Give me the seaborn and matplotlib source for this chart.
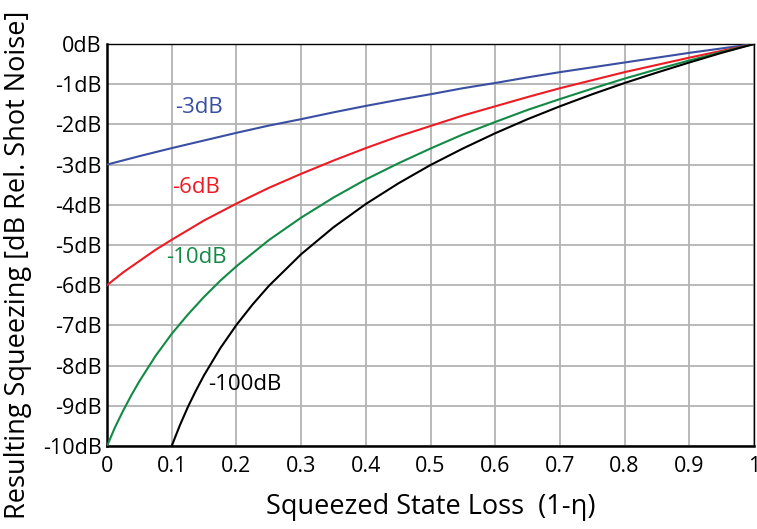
import matplotlib
matplotlib.use("Agg")
import matplotlib.pyplot as plt
import seaborn as sns
import pandas as pd

# Loss values (1-eta) and resulting squeezing in dB
x_3 = [0, 0.05, 0.1, 0.15, 0.2, 0.25, 0.3, 0.35, 0.4, 0.45, 0.5, 0.55, 0.6, 0.65, 0.7, 0.75, 0.8, 0.85, 0.9, 0.95, 1.0]
y_3 = [-3.00, -2.79, -2.59, -2.40, -2.21, -2.03, -1.87, -1.70, -1.54, -1.39, -1.25, -1.10, -0.97, -0.83, -0.70, -0.58, -0.46, -0.34, -0.22, -0.11, 0.0]

x_6 = [0, 0.025, 0.05, 0.075, 0.1, 0.15, 0.2, 0.25, 0.3, 0.35, 0.4, 0.45, 0.5, 0.55, 0.6, 0.65, 0.7, 0.75, 0.8, 0.85, 0.9, 0.95, 1.0]
y_6 = [-6.00, -5.68, -5.40, -5.12, -4.87, -4.39, -3.97, -3.58, -3.23, -2.90, -2.59, -2.30, -2.04, -1.78, -1.55, -1.32, -1.10, -0.90, -0.70, -0.52, -0.34, -0.17, 0.0]

x_10 = [0, 0.0125, 0.025, 0.0375, 0.05, 0.075, 0.1, 0.125, 0.15, 0.175, 0.2, 0.25, 0.3, 0.35, 0.4, 0.45, 0.5, 0.55, 0.6, 0.65, 0.7, 0.75, 0.8, 0.85, 0.9, 0.95, 1.0]
y_10 = [-10.00, -9.53, -9.12, -8.74, -8.39, -7.76, -7.21, -6.73, -6.29, -5.89, -5.53, -4.88, -4.32, -3.82, -3.37, -2.97, -2.60, -2.25, -1.94, -1.64, -1.37, -1.11, -0.86, -0.63, -0.41, -0.20, 0.0]

x_100 = [0.1, 0.1125, 0.125, 0.1375, 0.15, 0.175, 0.2, 0.225, 0.25, 0.3, 0.35, 0.4, 0.45, 0.5, 0.55, 0.6, 0.65, 0.7, 0.75, 0.8, 0.85, 0.9, 0.95, 1.0]
y_100 = [-10.00, -9.49, -9.03, -8.62, -8.24, -7.57, -6.99, -6.48, -6.02, -5.23, -4.56, -3.98, -3.47, -3.01, -2.60, -2.22, -1.87, -1.55, -1.25, -0.97, -0.71, -0.46, -0.22, 0.0]

series_names = ["-3dB", "-6dB", "-10dB", "-100dB"]
series_colors = ["#3a4fa3", "#ed1c24", "#128a45", "#000000"]
x_ticks = [0, 0.1, 0.2, 0.3, 0.4, 0.5, 0.6, 0.7, 0.8, 0.9, 1]
x_tick_labels = ["0", "0.1", "0.2", "0.3", "0.4", "0.5", "0.6", "0.7", "0.8", "0.9", "1"]
y_ticks = [0, -1, -2, -3, -4, -5, -6, -7, -8, -9, -10]
y_tick_labels = ["0dB", "-1dB", "-2dB", "-3dB", "-4dB", "-5dB", "-6dB", "-7dB", "-8dB", "-9dB", "-10dB"]

frames = []
for name, xs, ys in zip(series_names, [x_3, x_6, x_10, x_100], [y_3, y_6, y_10, y_100]):
    frames.append(pd.DataFrame({"loss": xs, "sq": ys, "init": name}))
df = pd.concat(frames, ignore_index=True)

sns.set_theme(style="white")
plt.rcParams["font.family"] = ["Open Sans", "DejaVu Sans"]

fig = plt.figure(figsize=(7.57, 5.29), dpi=100)
ax = fig.add_axes([107 / 757, 1 - 446 / 529, 647 / 757, 402 / 529])

sns.lineplot(data=df, x="loss", y="sq", hue="init", palette=dict(zip(series_names, series_colors)),
             hue_order=series_names, linewidth=1.5, legend=False, ax=ax, sort=False, zorder=3)

ax.set_xlim(0, 1)
ax.set_ylim(-10, 0)
ax.set_xticks(x_ticks)
ax.set_xticklabels(x_tick_labels, fontsize=15.5)
ax.set_yticks(y_ticks)
ax.set_yticklabels(y_tick_labels, fontsize=15.5)
ax.tick_params(axis="x", length=0, pad=7, colors="black")
ax.tick_params(axis="y", length=0, pad=4, colors="black")
ax.grid(True, color="#b3b3b3", linewidth=1.3)
ax.set_axisbelow(True)
for s in ax.spines.values():
    s.set_color("black")
    s.set_linewidth(1.8)
ax.spines["top"].set_linewidth(1.0)
ax.spines["right"].set_linewidth(1.0)

ax.set_xlabel("Squeezed State Loss  (1-η)", fontsize=19.5, labelpad=12, color="black")
ax.set_ylabel("Resulting Squeezing [dB Rel. Shot Noise]", fontsize=19.5, color="black")
ax.yaxis.set_label_coords(-0.116, 0.45)

label_pos = [(0.106, -1.57), (0.10, -3.56), (0.091, -5.32), (0.156, -8.48)]
for name, col, (lx, ly) in zip(series_names, series_colors, label_pos):
    ax.text(lx, ly, name, color=col, fontsize=16, ha="left", va="center")

fig.savefig("out.png", dpi=100)
